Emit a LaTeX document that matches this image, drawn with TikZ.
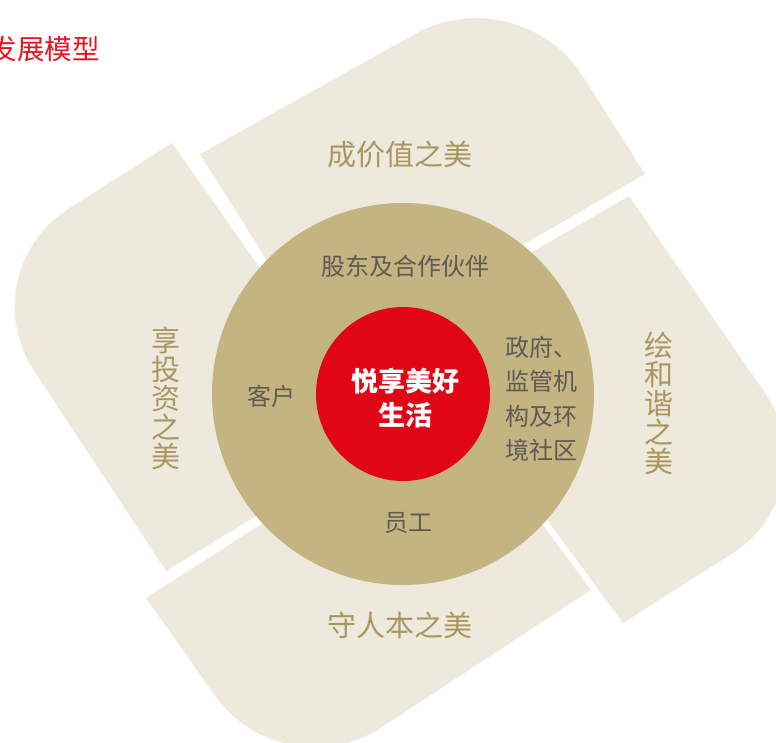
\documentclass[tikz,border=0pt]{standalone}
\usepackage{fontspec}
\usepackage{xcolor}
\usepackage{tikz}
\usetikzlibrary{calc}

\newfontfamily\cjk{Noto Sans CJK SC}

\definecolor{petalfill}{RGB}{237,234,221}
\definecolor{ringfill}{RGB}{196,180,130}
\definecolor{corered}{RGB}{224,6,22}
\definecolor{petaltext}{RGB}{170,150,95}
\definecolor{ringtext}{RGB}{95,90,82}
\definecolor{titlered}{RGB}{230,20,30}

\tikzset{
	petal/.style = {fill = petalfill},
	petallabel/.style = {text = petaltext, font = \cjk\fontsize{29}{29}\selectfont, inner sep = 0pt, align = center},
	ringlabel/.style = {text = ringtext, font = \cjk\fontsize{24}{34.5}\selectfont, inner sep = 0pt},
	corelabel/.style = {text = white, font = \cjk\bfseries\fontsize{27}{34}\selectfont, inner sep = 0pt, align = center},
	titlelabel/.style = {text = titlered, font = \cjk\fontsize{27.5}{27.5}\selectfont, inner sep = 0pt},
}

\begin{document}
\begin{tikzpicture}[x = 1pt, y = -1pt]
		\def\rad{118pt};
		\def\ctrl{53pt};

		\useasboundingbox (0,0) rectangle (776,743);
		\clip (0,0) rectangle (776,743);

		\coordinate (toptip) at (519,-24);
		\coordinate (righttip) at (832,490);
		\coordinate (lefttip) at (-31,272);
		\coordinate (bottomtip) at (283,792);

		\fill [petal] (200,154) -- ($(toptip)!\rad!(200,154)$) .. controls ($(toptip)!\ctrl!(200,154)$) and ($(toptip)!\ctrl!(645,174)$) .. ($(toptip)!\rad!(645,174)$) -- (645,174) -- (328,358) -- cycle;

		\fill [petal] (629,196) -- ($(righttip)!\rad!(629,196)$) .. controls ($(righttip)!\ctrl!(629,196)$) and ($(righttip)!\ctrl!(623,623)$) .. ($(righttip)!\rad!(623,623)$) -- (623,623) -- (404,326) -- cycle;

		\fill [petal] (172,143) -- ($(lefttip)!\rad!(172,143)$) .. controls ($(lefttip)!\ctrl!(172,143)$) and ($(lefttip)!\ctrl!(166,571)$) .. ($(lefttip)!\rad!(166,571)$) -- (166,571) -- (381,440) -- cycle;

		\fill [petal] (591,590) -- ($(bottomtip)!\rad!(591,590)$) .. controls ($(bottomtip)!\ctrl!(591,590)$) and ($(bottomtip)!\ctrl!(146,598)$) .. ($(bottomtip)!\rad!(146,598)$) -- (146,598) -- (452,402) -- cycle;

		\fill [ringfill] (403,394) circle [radius = 191];

		\fill [corered] (403,394) circle [radius = 87];

		\node [petallabel] (jiazhi) at (400,155) {成价值之美};
		\node [petallabel] (touzi) at (166,398) {享\\投\\资\\之\\美};
		\node [petallabel] (hexie) at (659,403) {绘\\和\\谐\\之\\美};
		\node [petallabel] (renben) at (400,625) {守人本之美};

		\node [ringlabel] (gudong) at (405,266) {股东及合作伙伴};
		\node [ringlabel] (kehu) at (271,396) {客户};
		\node [ringlabel, align = left, anchor = west] (zhengfu) at (505,399) {政府、\\监管机\\构及环\\境社区};
		\node [ringlabel] (yuangong) at (408,523) {员工};

		\node [corelabel] (core) at (405,398) {悦享美好\\生活};

		\node [titlelabel, anchor = east] (title) at (100,49) {发展模型};
	\end{tikzpicture}
\end{document}
